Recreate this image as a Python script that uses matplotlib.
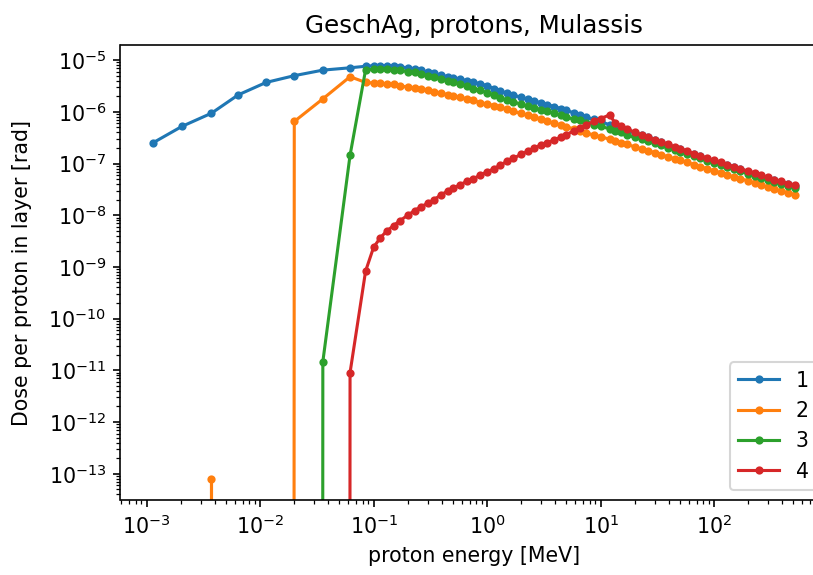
import matplotlib
matplotlib.use("Agg")
import matplotlib.pyplot as plt
from matplotlib.ticker import LogLocator

# proton energy grid [MeV]
energy = [1.13e-3, 2.04e-3, 3.73e-3, 6.4e-3, 1.13e-2, 2.0e-2, 3.57e-2, 6.2e-2,
          0.085, 0.1, 0.115, 0.13, 0.15, 0.17, 0.2, 0.23, 0.26, 0.3,
          0.34, 0.39, 0.45, 0.5, 0.58, 0.66, 0.75, 0.87,
          1.0, 1.15, 1.3, 1.5, 1.7, 2.0, 2.3, 2.6, 3.0, 3.4,
          3.9, 4.5, 5.0, 5.8, 6.6, 7.5, 8.7, 10, 12, 13.5,
          15, 17, 20, 23, 26, 30, 34, 39, 45, 50,
          58, 66, 75, 87, 100, 115, 130, 150, 170, 200,
          230, 260, 300, 340, 390, 450, 520]

# dose per proton per layer [rad]
dose_1 = [2.49e-7, 5.2e-7, 9.4e-7, 2.12e-6, 3.7e-6, 5.0e-6, 6.4e-6, 7.1e-6,
          7.6e-6, 7.8e-6, 7.8e-6, 7.8e-6, 7.6e-6, 7.4e-6, 7.1e-6, 6.8e-6, 6.3e-6, 5.9e-6,
          5.6e-6, 5.1e-6, 4.8e-6, 4.6e-6, 4.3e-6, 4.0e-6, 3.7e-6, 3.5e-6,
          3.2e-6, 2.8e-6, 2.5e-6, 2.3e-6, 2.1e-6, 1.9e-6, 1.74e-6, 1.62e-6, 1.48e-6, 1.38e-6,
          1.26e-6, 1.15e-6, 1.07e-6, 9.5e-7, 8.7e-7, 7.9e-7, 7.1e-7, 6.5e-7, 5.6e-7, 5.2e-7,
          4.8e-7, 4.4e-7, 3.9e-7, 3.5e-7, 3.2e-7, 2.8e-7, 2.6e-7, 2.3e-7, 2.04e-7, 1.9e-7,
          1.7e-7, 1.51e-7, 1.38e-7, 1.23e-7, 1.12e-7, 1.02e-7, 9.3e-8, 8.5e-8, 7.8e-8, 6.9e-8,
          6.3e-8, 5.8e-8, 5.2e-8, 4.8e-8, 4.4e-8, 4.0e-8, 3.6e-8]

dose_2 = [0, 0, 7.8e-14, 0, 0, 6.5e-7, 1.78e-6, 4.77e-6,
          3.7e-6, 3.6e-6, 3.55e-6, 3.5e-6, 3.4e-6, 3.2e-6, 3.0e-6, 2.9e-6, 2.75e-6, 2.6e-6,
          2.45e-6, 2.3e-6, 2.14e-6, 2.04e-6, 1.9e-6, 1.78e-6, 1.66e-6, 1.51e-6,
          1.41e-6, 1.32e-6, 1.23e-6, 1.12e-6, 1.02e-6, 9.3e-7, 8.5e-7, 7.9e-7, 7.2e-7, 6.6e-7,
          6.0e-7, 5.5e-7, 5.1e-7, 4.7e-7, 4.3e-7, 3.9e-7, 3.55e-7, 3.3e-7, 2.95e-7, 2.7e-7,
          2.5e-7, 2.35e-7, 2.1e-7, 1.9e-7, 1.78e-7, 1.62e-7, 1.48e-7, 1.35e-7, 1.23e-7, 1.15e-7,
          1.05e-7, 9.5e-8, 8.7e-8, 7.9e-8, 7.2e-8, 6.6e-8, 6.0e-8, 5.5e-8, 5.1e-8, 4.6e-8,
          4.2e-8, 3.8e-8, 3.5e-8, 3.2e-8, 2.95e-8, 2.7e-8, 2.5e-8]

dose_3 = [0, 0, 0, 0, 0, 0, 1.47e-11, 1.44e-7,
          6.5e-6, 6.6e-6, 6.6e-6, 6.6e-6, 6.5e-6, 6.3e-6, 6.0e-6, 5.8e-6, 5.4e-6, 5.0e-6,
          4.7e-6, 4.3e-6, 3.9e-6, 3.7e-6, 3.4e-6, 3.1e-6, 2.8e-6, 2.6e-6,
          2.35e-6, 2.14e-6, 1.86e-6, 1.7e-6, 1.55e-6, 1.41e-6, 1.29e-6, 1.2e-6, 1.1e-6, 1.02e-6,
          9.3e-7, 8.5e-7, 7.9e-7, 7.2e-7, 6.8e-7, 6.2e-7, 5.6e-7, 5.2e-7, 4.7e-7, 4.3e-7,
          4.0e-7, 3.6e-7, 3.2e-7, 2.95e-7, 2.7e-7, 2.45e-7, 2.24e-7, 2.0e-7, 1.82e-7, 1.7e-7,
          1.51e-7, 1.38e-7, 1.26e-7, 1.12e-7, 1.02e-7, 9.3e-8, 8.5e-8, 7.8e-8, 7.1e-8, 6.3e-8,
          5.8e-8, 5.2e-8, 4.8e-8, 4.4e-8, 4.0e-8, 3.6e-8, 3.3e-8]

dose_4 = [0, 0, 0, 0, 0, 0, 0, 9.0e-12,
          8.3e-10, 2.4e-9, 3.7e-9, 4.9e-9, 6.3e-9, 7.8e-9, 1.0e-8, 1.23e-8, 1.45e-8, 1.7e-8,
          2.0e-8, 2.45e-8, 2.95e-8, 3.3e-8, 3.9e-8, 4.5e-8, 5.0e-8, 6.0e-8,
          6.9e-8, 7.9e-8, 9.3e-8, 1.1e-7, 1.26e-7, 1.51e-7, 1.74e-7, 2.0e-7, 2.3e-7, 2.5e-7,
          2.9e-7, 3.2e-7, 3.6e-7, 4.3e-7, 4.9e-7, 5.6e-7, 6.5e-7, 7.4e-7, 8.7e-7, 6.0e-7,
          5.4e-7, 4.7e-7, 4.0e-7, 3.55e-7, 3.2e-7, 2.9e-7, 2.6e-7, 2.35e-7, 2.1e-7, 1.95e-7,
          1.74e-7, 1.55e-7, 1.41e-7, 1.26e-7, 1.15e-7, 1.05e-7, 9.5e-8, 8.7e-8, 7.9e-8, 7.1e-8,
          6.5e-8, 5.9e-8, 5.4e-8, 4.9e-8, 4.5e-8, 4.1e-8, 3.8e-8]

layers = ["1", "2", "3", "4"]
doses = [dose_1, dose_2, dose_3, dose_4]

DPI = 148
fig = plt.figure(figsize=(813 / DPI, 575 / DPI), dpi=DPI)
# axes run past the right edge, the original picture was cropped there
ax = fig.add_axes([120.5 / 813, 75 / 575, 707 / 813, 455 / 575])

for name, d in zip(layers, doses):
    ax.plot(energy, d, '.-', label=name)

ax.set_xscale('log')
ax.set_yscale('log')
ax.yaxis.set_major_locator(LogLocator(base=10, numticks=20))
ax.yaxis.set_minor_locator(LogLocator(base=10, subs=range(2, 10), numticks=20))

ax.set_title("GeschAg, protons, Mulassis")
ax.set_xlabel("proton energy [MeV]")
ax.set_ylabel("Dose per proton in layer [rad]", labelpad=8)
ax.legend(loc='lower right')

fig.savefig("out.png", dpi=DPI)
